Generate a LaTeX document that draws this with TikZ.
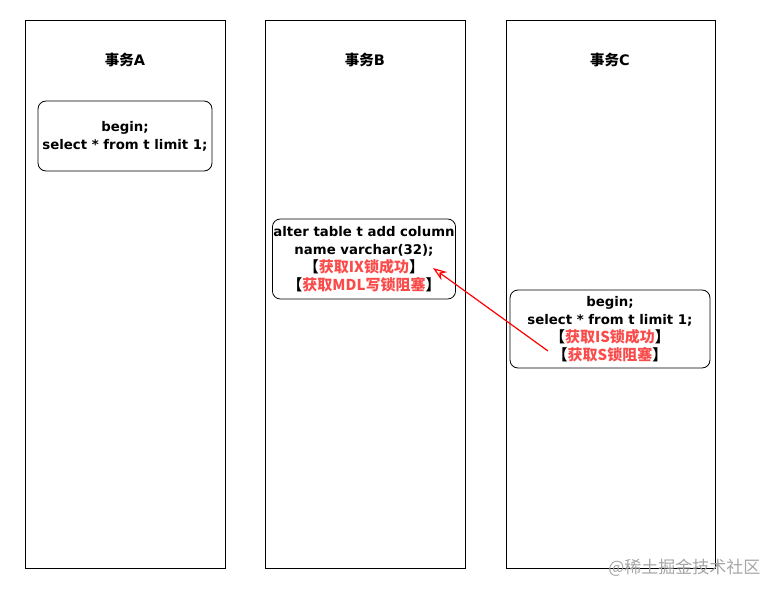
\documentclass[tikz,border=0pt]{standalone}
\usepackage{fontspec}
\setmainfont{DejaVu Sans}
\newfontfamily\cjk{Noto Sans CJK SC}
\usetikzlibrary{
  arrows.meta,
  positioning,
}
\definecolor{lockred}{RGB}{250,75,75}
\tikzset{
  column/.style={
    rectangle,
    draw=black,
    thick,
    minimum height=548pt,
    inner sep=0pt,
  },
  title/.style={
    font=\bfseries\fontsize{14.5}{16}\selectfont,
  },
  sqlbox/.style={
    rectangle,
    rounded corners=8pt,
    draw=black,
    thick,
    align=center,
    inner sep=1pt,
    font=\bfseries\fontsize{13.3}{18}\selectfont,
  },
  arrow/.style={
    line width=1.2pt,
    draw=red,
    -{Stealth[open, length=14pt, width=10pt]},
  },
}
\newcommand{\lock}[1]{{\cjk\fontsize{15}{18}\selectfont【\textcolor{lockred}{#1}】}}

\begin{document}
\begin{tikzpicture}[x=1pt, y=-1pt]
  \useasboundingbox (0,0) rectangle (780,597);

  % Columns
  \node (colA) [column, minimum width=200pt, anchor=north west] at (25,20) {};
  \node (colB) [column, minimum width=200pt, anchor=north west] at (265,20) {};
  \node (colC) [column, minimum width=209pt, anchor=north west] at (506,20) {};

  % Titles
  \node (titleA) [title] at (125,60) {{\cjk 事务}A};
  \node (titleB) [title] at (365,60) {{\cjk 事务}B};
  \node (titleC) [title] at (610,60) {{\cjk 事务}C};

  % Statements
  \node (stmtA) [sqlbox, minimum width=174pt, minimum height=70pt] at (125,136)
    {begin;\\select * from t limit 1;};
  \node (stmtB) [sqlbox, minimum width=180pt, minimum height=80pt] at (364,259)
    {alter table t add column\\name varchar(32);\\\lock{获取IX锁成功}\\\lock{获取MDL写锁阻塞}};
  \node (stmtC) [sqlbox, minimum width=200pt, minimum height=78pt] at (610,329)
    {begin;\\select * from t limit 1;\\\lock{获取IS锁成功}\\\lock{获取S锁阻塞}};

  % Arrow
  \coordinate (waitS) at (548,351);
  \coordinate (holdIX) at (433,268);
  \draw [arrow] (waitS) -- (holdIX);

  % Watermark
  \node (mark) [text=black!35, font=\cjk\fontsize{17}{19}\selectfont, anchor=east] at (764,568) {@稀土掘金技术社区};

\end{tikzpicture}
\end{document}
